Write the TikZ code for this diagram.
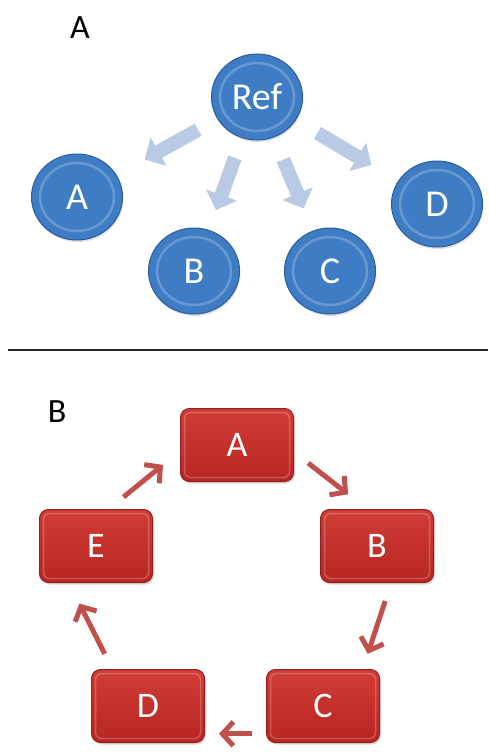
\documentclass[tikz,border=0pt]{standalone}
\usepackage{fontspec}
\setmainfont{Carlito}
\usepackage{tikz}
\usetikzlibrary{positioning,arrows.meta,shapes.geometric,shadows}
\usepackage{color}
\definecolor{cellblue}{RGB}{62,124,196}
\definecolor{celledge}{RGB}{42,92,158}
\definecolor{paleblue}{RGB}{184,202,228}
\definecolor{boxtop}{RGB}{208,60,54}
\definecolor{boxbottom}{RGB}{184,38,34}
\definecolor{boxedge}{RGB}{150,30,28}
\definecolor{arrowred}{RGB}{192,80,76}

\begin{document}
\begin{tikzpicture}[x=1pt,y=-1pt,on grid,
  panel/.style={font=\fontsize{34}{38}\selectfont},
  cell/.style={ellipse,minimum width=91pt,minimum height=86pt,fill=cellblue,
    draw=celledge,line width=1pt,text=white,font=\fontsize{38}{40}\selectfont,
    drop shadow={opacity=.25,shadow xshift=1pt,shadow yshift=-2pt},
    path picture={\draw[white,opacity=.22,line width=2.5pt]
      (path picture bounding box.center) ellipse (37pt and 34pt);}},
  box/.style={rectangle,rounded corners=9pt,minimum width=113pt,minimum height=73pt,
    top color=boxtop,bottom color=boxbottom,draw=boxedge,line width=1pt,
    text=white,font=\fontsize{36}{40}\selectfont,
    drop shadow={opacity=.3,shadow xshift=1.5pt,shadow yshift=-2pt},
    path picture={\draw[white,opacity=.22,line width=1.5pt,rounded corners=6pt]
      ([shift={(4pt,-4pt)}]path picture bounding box.north west) rectangle
      ([shift={(-4pt,4pt)}]path picture bounding box.south east);}},
  flow/.style={draw=paleblue,line width=14pt,-{Triangle[length=16pt,width=32pt]}},
  ringarrow/.style={draw=arrowred,line width=5pt,-{Straight Barb[length=11pt,width=24pt]}}]
\useasboundingbox (0,0) rectangle (488,752);

% A
\node[panel] (tag_a) at (80,28) {A};
\node[cell] (ref) at (257,97) {Ref};
\node[cell] (t_a) [below left=100pt and 180pt of ref] {A};
\node[cell] (t_b) [below left=174pt and 63pt of ref] {B};
\node[cell] (t_c) [right=136pt of t_b] {C};
\node[cell] (t_d) [below right=107pt and 180pt of ref] {D};
\draw[flow,shorten <=22pt,shorten >=32pt] (ref) -- (t_a);
\draw[flow,shorten <=21pt,shorten >=21pt] (ref) -- (t_b);
\draw[flow,shorten <=24pt,shorten >=24pt] (ref) -- (t_c);
\draw[flow,shorten <=25pt,shorten >=31pt] (ref) -- (t_d);

\draw[line width=2pt,black!85] (8,350) -- (488,350);

% B
\node[panel] (tag_b) at (57,412) {B};
\node[box] (k_a) at (237,445) {A};
\node[box] (k_b) [below right=101pt and 140pt of k_a] {B};
\node[box] (k_e) [below left=101pt and 141pt of k_a] {E};
\node[box] (k_c) [below left=160pt and 54pt of k_b] {C};
\node[box] (k_d) [left=175pt of k_c] {D};
\draw[ringarrow,shorten <=18pt,shorten >=24pt] (k_a.-7) -- (k_b.105);
\draw[ringarrow,shorten <=19pt,shorten >=16pt] (k_b.-69) -- (k_c.43);
\draw[ringarrow,shorten <=14pt,shorten >=14pt] (k_c.206) -- (k_d.-26);
\draw[ringarrow,shorten <=17pt,shorten >=23pt] (k_d.134) -- (k_e.-126);
\draw[ringarrow,shorten <=19pt,shorten >=22pt] (k_e.71) -- (k_a.-174);
\end{tikzpicture}
\end{document}
